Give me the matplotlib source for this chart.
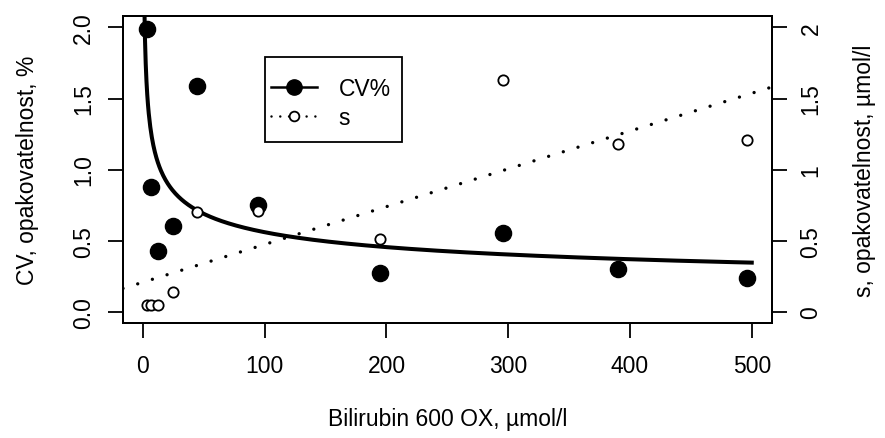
import numpy as np
import matplotlib.pyplot as plt
from matplotlib.lines import Line2D
from matplotlib.patches import Rectangle

plt.rcParams['font.family'] = ['Liberation Sans', 'DejaVu Sans']

# measured values
bilirubin = [3.3, 6.3, 12.3, 25, 44.7, 94.7, 194.5, 295.5, 390, 496.5]
cv_pct = [1.99, 0.88, 0.43, 0.60, 1.59, 0.75, 0.27, 0.55, 0.30, 0.24]
s_umol = [0.05, 0.05, 0.05, 0.14, 0.70, 0.71, 0.51, 1.63, 1.18, 1.21]

# fitted models: CV = a * x^b, s = c + d * x
cv_fit = (2.225, -0.30)
s_fit = (0.207, 0.00266)

FS = 16.5

fig = plt.figure(figsize=(8.85, 4.39), dpi=100)
ax = fig.add_axes([0.139, 0.262, 0.733, 0.699])

xf = np.linspace(1.0, 500, 800)
ax.plot(xf, cv_fit[0] * xf ** cv_fit[1], color='black', lw=2.9, zorder=3)
xl = np.array([-16.4, 516.4])
ax.plot(xl, s_fit[0] + s_fit[1] * xl, color='black', lw=2.4,
        linestyle=(0, (0.01, 4.6)), dash_capstyle='round', zorder=2)

ax.scatter(bilirubin, cv_pct, s=135, color='black', zorder=4)
ax.scatter(bilirubin, s_umol, s=55, facecolor='white', edgecolor='black',
           linewidths=1.3, zorder=4)

ax.set_xlim(-16.4, 516.4)
ax.set_ylim(-0.08, 2.08)
ax.set_xticks([0, 100, 200, 300, 400, 500])
ax.set_yticks([0, 0.5, 1.0, 1.5, 2.0])
ax.set_yticklabels(['0.0', '0.5', '1.0', '1.5', '2.0'], rotation=90, va='center')
ax.tick_params(axis='both', direction='out', length=11, width=1.3,
               labelsize=FS, pad=9)
ax.tick_params(axis='x', pad=11)
for sp in ax.spines.values():
    sp.set_linewidth(1.4)

ax.set_xlabel('Bilirubin 600 OX, µmol/l', fontsize=FS, labelpad=22)
ax.set_ylabel('CV, opakovatelnost, %', fontsize=FS, labelpad=24)

ax2 = ax.twinx()
ax2.set_ylim(-0.08, 2.08)
ax2.set_yticks([0, 0.5, 1.0, 1.5, 2.0])
ax2.set_yticklabels(['0', '0.5', '1', '1.5', '2'], rotation=90, va='center')
ax2.tick_params(axis='y', direction='out', length=11, width=1.3,
                labelsize=FS, pad=9)
for sp in ax2.spines.values():
    sp.set_linewidth(1.4)
ax2.set_ylabel('s, opakovatelnost, µmol/l', fontsize=FS, labelpad=22)

# legend box
ax.add_patch(Rectangle((0.219, 0.590), 0.211, 0.277, transform=ax.transAxes,
                       facecolor='white', edgecolor='black', lw=1.3, zorder=5))
handles = [
    Line2D([], [], color='black', lw=1.8, marker='o', markersize=11),
    Line2D([], [], color='black', lw=1.8, linestyle=(0, (0.01, 3.5)),
           dash_capstyle='round', marker='o', markersize=7,
           markerfacecolor='white', markeredgewidth=1.3),
]
leg = ax.legend(handles, ['CV%', 's'], loc='upper left',
                bbox_to_anchor=(0.228, 0.802), fontsize=FS, frameon=False,
                borderpad=0, handlelength=2.0, labelspacing=0.28,
                handletextpad=0.95, borderaxespad=0)
leg.set_zorder(6)

fig.savefig('out.png', dpi=100)
